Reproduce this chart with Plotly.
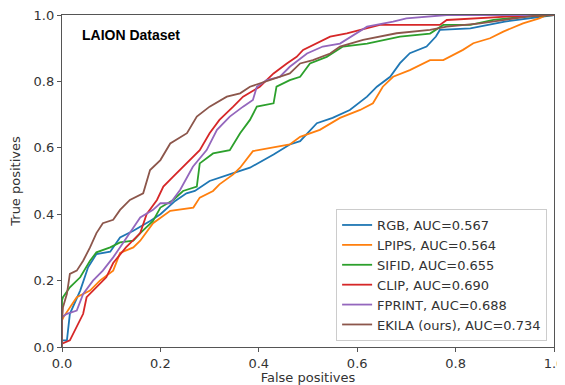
import plotly.graph_objects as go

# ---- data ----
rgb_fpr = [0.0, 0.0, 0.01, 0.016, 0.037, 0.053, 0.07, 0.098, 0.118, 0.145, 0.18, 0.2, 0.23, 0.253, 0.27, 0.30,
           0.348, 0.382, 0.43, 0.463, 0.484, 0.518, 0.55, 0.585, 0.62, 0.64, 0.667, 0.687, 0.707, 0.741, 0.76,
           0.768, 0.83, 0.90, 0.985, 1.0]
rgb_tpr = [0.0, 0.02, 0.02, 0.10, 0.17, 0.24, 0.28, 0.287, 0.33, 0.35, 0.38, 0.40, 0.44, 0.463, 0.47, 0.50,
           0.524, 0.54, 0.58, 0.61, 0.62, 0.674, 0.69, 0.714, 0.754, 0.784, 0.814, 0.855, 0.885, 0.905, 0.935,
           0.955, 0.96, 0.98, 0.997, 1.0]

lpips_fpr = [0.0, 0.0, 0.003, 0.03, 0.057, 0.077, 0.104, 0.118, 0.145, 0.159, 0.185, 0.22, 0.267, 0.28, 0.307,
             0.32, 0.348, 0.362, 0.388, 0.43, 0.463, 0.484, 0.524, 0.565, 0.606, 0.632, 0.652, 0.673, 0.707,
             0.748, 0.775, 0.815, 0.836, 0.87, 0.897, 0.937, 0.97, 0.985, 1.0]
lpips_tpr = [0.0, 0.08, 0.09, 0.15, 0.17, 0.20, 0.23, 0.283, 0.30, 0.32, 0.373, 0.41, 0.42, 0.45, 0.47,
             0.49, 0.52, 0.54, 0.59, 0.60, 0.61, 0.633, 0.654, 0.69, 0.714, 0.734, 0.784, 0.814, 0.834,
             0.864, 0.864, 0.895, 0.915, 0.93, 0.95, 0.975, 0.99, 1.0, 1.0]

sifid_fpr = [0.0, 0.0, 0.002, 0.016, 0.037, 0.057, 0.07, 0.098, 0.118, 0.145, 0.159, 0.185, 0.2, 0.226, 0.246,
             0.266, 0.274, 0.28, 0.307, 0.341, 0.362, 0.382, 0.396, 0.43, 0.436, 0.463, 0.484, 0.504, 0.538,
             0.571, 0.62, 0.687, 0.748, 0.775, 0.83, 0.877, 0.937, 1.0]
sifid_tpr = [0.0, 0.14, 0.15, 0.18, 0.21, 0.26, 0.285, 0.30, 0.315, 0.32, 0.343, 0.38, 0.42, 0.443, 0.47,
             0.48, 0.483, 0.553, 0.583, 0.593, 0.644, 0.684, 0.724, 0.734, 0.784, 0.804, 0.814, 0.854, 0.874,
             0.905, 0.914, 0.935, 0.944, 0.97, 0.97, 0.985, 0.995, 1.0]

clip_fpr = [0.0, 0.0, 0.016, 0.03, 0.043, 0.05, 0.07, 0.09, 0.104, 0.13, 0.159, 0.172, 0.193, 0.206, 0.226,
            0.253, 0.28, 0.30, 0.32, 0.348, 0.368, 0.402, 0.43, 0.457, 0.477, 0.49, 0.518, 0.545, 0.579, 0.606,
            0.646, 0.768, 0.782, 0.904, 1.0]
clip_tpr = [0.0, 0.01, 0.02, 0.06, 0.10, 0.15, 0.18, 0.21, 0.253, 0.30, 0.343, 0.40, 0.443, 0.483, 0.513,
            0.553, 0.593, 0.644, 0.684, 0.724, 0.754, 0.784, 0.824, 0.854, 0.874, 0.895, 0.915, 0.935, 0.945,
            0.955, 0.97, 0.97, 0.985, 0.995, 1.0]

fprint_fpr = [0.0, 0.0, 0.01, 0.03, 0.043, 0.063, 0.083, 0.104, 0.124, 0.152, 0.159, 0.185, 0.2, 0.22, 0.24,
              0.266, 0.294, 0.315, 0.341, 0.368, 0.388, 0.396, 0.416, 0.443, 0.463, 0.498, 0.53, 0.565, 0.62,
              0.673, 0.70, 0.782, 1.0]
fprint_tpr = [0.0, 0.09, 0.10, 0.11, 0.16, 0.20, 0.23, 0.27, 0.313, 0.373, 0.39, 0.413, 0.433, 0.433, 0.473,
              0.543, 0.593, 0.654, 0.694, 0.724, 0.744, 0.784, 0.804, 0.814, 0.844, 0.884, 0.905, 0.914, 0.965,
              0.98, 0.99, 1.0, 1.0]

ekila_fpr = [0.0, 0.0, 0.002, 0.01, 0.016, 0.03, 0.043, 0.057, 0.07, 0.083, 0.104, 0.118, 0.138, 0.165, 0.179,
             0.2, 0.22, 0.254, 0.274, 0.30, 0.335, 0.362, 0.382, 0.423, 0.463, 0.484, 0.51, 0.545, 0.565, 0.612,
             0.68, 0.748, 0.782, 0.85, 0.917, 0.97, 1.0]
ekila_tpr = [0.0, 0.08, 0.12, 0.16, 0.22, 0.23, 0.26, 0.30, 0.343, 0.373, 0.383, 0.413, 0.443, 0.463, 0.533,
             0.563, 0.613, 0.644, 0.694, 0.724, 0.754, 0.764, 0.784, 0.804, 0.824, 0.854, 0.864, 0.884, 0.905,
             0.925, 0.945, 0.955, 0.965, 0.975, 0.99, 1.0, 1.0]

series_names = ["RGB, AUC=0.567", "LPIPS, AUC=0.564", "SIFID, AUC=0.655",
                "CLIP, AUC=0.690", "FPRINT, AUC=0.688", "EKILA (ours), AUC=0.734"]
x_ticks = [0.0, 0.2, 0.4, 0.6, 0.8, 1.0]
y_ticks = [0.0, 0.2, 0.4, 0.6, 0.8, 1.0]

series = [(rgb_fpr, rgb_tpr), (lpips_fpr, lpips_tpr), (sifid_fpr, sifid_tpr),
          (clip_fpr, clip_tpr), (fprint_fpr, fprint_tpr), (ekila_fpr, ekila_tpr)]
colors = ["#1f77b4", "#ff7f0e", "#2ca02c", "#d62728", "#9467bd", "#8c564b"]

fig = go.Figure()
for (xs, ys), name, c in zip(series, series_names, colors):
    fig.add_trace(go.Scatter(x=xs, y=ys, mode="lines", name=name,
                             line=dict(color=c, width=1.8)))

font_family = "DejaVu Sans"
axis_common = dict(range=[0, 1], showgrid=False, zeroline=False, showline=True, mirror=True,
                   linecolor="#555", linewidth=1.3, ticks="outside", ticklen=4, tickwidth=1,
                   tickcolor="#555", tickformat=".1f", automargin=False, ticklabeloverflow="allow",
                   tickfont=dict(family=font_family, size=13, color="#333"))

# the page body has an 8px default margin, so the figure is sized/offset to compensate
fig.update_layout(
    width=557, height=377,
    margin=dict(l=54, r=11, t=7, b=38),
    paper_bgcolor="white", plot_bgcolor="white",
    font=dict(family=font_family, size=13, color="#333"),
    xaxis=dict(axis_common, tickvals=x_ticks,
               title=dict(text="False positives", font=dict(family=font_family, size=13), standoff=4)),
    yaxis=dict(axis_common, tickvals=y_ticks,
               title=dict(text="True positives", font=dict(family=font_family, size=13), standoff=11)),
    legend=dict(x=0.986, y=0.018, xanchor="right", yanchor="bottom",
                bgcolor="rgba(255,255,255,0.85)", bordercolor="#ccc", borderwidth=1,
                font=dict(family=font_family, size=13, color="#333"),
                tracegroupgap=0, itemwidth=30),
    showlegend=True,
    annotations=[dict(text="<b>LAION Dataset</b>", x=0.037, y=0.94, xref="paper", yref="paper",
                      xanchor="left", yanchor="middle", showarrow=False,
                      font=dict(family="Liberation Sans", size=14, color="black"))],
)

fig.write_html("out.html")
